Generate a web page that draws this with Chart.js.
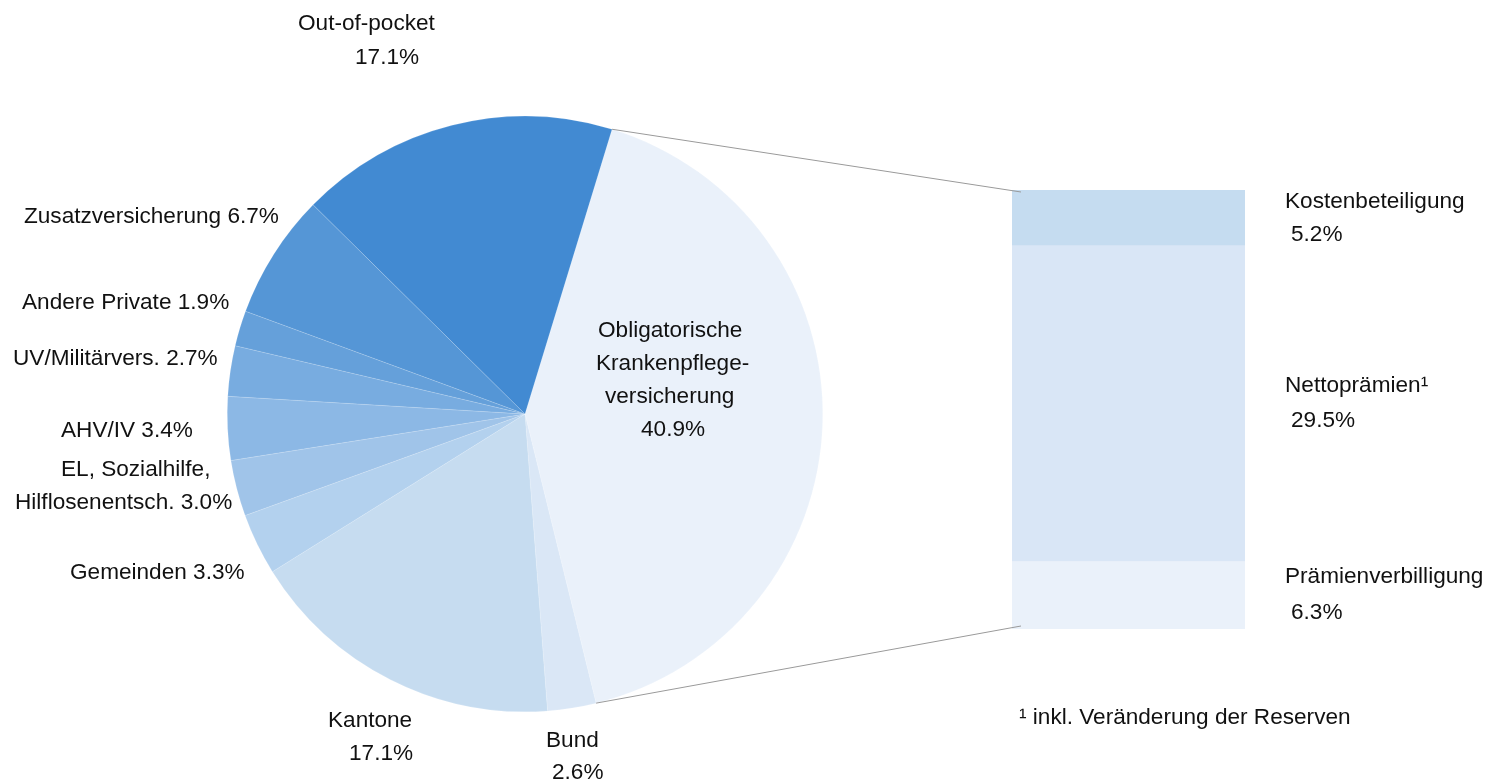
<!DOCTYPE html>
<html>
<head>
<meta charset="utf-8">
<script src="https://cdn.jsdelivr.net/npm/chart.js@4.4.1/dist/chart.umd.min.js"></script>
<style>
  html, body { margin: 0; padding: 0; background: #fff; }
  #wrap { position: relative; width: 1487px; height: 781px; }
  #wrap canvas { position: absolute; left: 0; top: 0; }
</style>
</head>
<body>
<div id="wrap">
  <canvas id="pie" width="1487" height="781"></canvas>
  <canvas id="bar" width="1487" height="781"></canvas>
</div>
<script>
// financing sources, clockwise from the compulsory insurance slice
var pieLabels = ['Obligatorische Krankenpflegeversicherung', 'Bund', 'Kantone', 'Gemeinden',
  'EL, Sozialhilfe, Hilflosenentsch.', 'AHV/IV', 'UV/Militärvers.', 'Andere Private',
  'Zusatzversicherung', 'Out-of-pocket'];
var pieValues = [40.9, 2.6, 17.1, 3.3, 3.0, 3.4, 2.7, 1.9, 6.7, 17.1];
var pieColors = ['#eaf1fa', '#dae7f6', '#c6dcf0', '#b3d1ee', '#a0c4e9', '#8cb8e5',
  '#78ace0', '#65a0da', '#5596d6', '#428ad2'];

// breakdown of the compulsory insurance, bottom to top
var barLabels = ['Prämienverbilligung', 'Nettoprämien¹', 'Kostenbeteiligung'];
var barValues = [6.3, 29.5, 5.2];
var barColors = ['#eaf1fa', '#d9e6f6', '#c5dcf0'];

var footnote = '¹ inkl. Veränderung der Reserven';

// label placement: lines of text ({v} = value), x per line, first baseline, line step
var pieLabelLayout = [
  { lines: ['Obligatorische', 'Krankenpflege-', 'versicherung', '{v}'], xs: [598, 596, 605, 641], y: 337, step: 33 },
  { lines: ['Bund', '{v}'], xs: [546, 552], y: 747, step: 32 },
  { lines: ['Kantone', '{v}'], xs: [328, 349], y: 727, step: 33 },
  { lines: ['Gemeinden {v}'], xs: [70], y: 579, step: 0 },
  { lines: ['EL, Sozialhilfe,', 'Hilflosenentsch. {v}'], xs: [61, 15], y: 476, step: 33 },
  { lines: ['AHV/IV {v}'], xs: [61], y: 437, step: 0 },
  { lines: ['UV/Militärvers. {v}'], xs: [13], y: 365, step: 0 },
  { lines: ['Andere Private {v}'], xs: [22], y: 309, step: 0 },
  { lines: ['Zusatzversicherung {v}'], xs: [24], y: 223, step: 0 },
  { lines: ['Out-of-pocket', '{v}'], xs: [298, 355], y: 30, step: 34 }
];
var barLabelLayout = [
  { xs: [1285, 1291], y: 583, step: 36 },
  { xs: [1285, 1291], y: 392, step: 35 },
  { xs: [1285, 1291], y: 208, step: 33 }
];

var FONT = '22.6px "Liberation Sans", Arial, sans-serif';
var TEXT = '#111';

function pct(v) {
  return v.toFixed(1) + '%';
}

var pieChart = new Chart(document.getElementById('pie'), {
  type: 'pie',
  data: {
    labels: pieLabels,
    datasets: [{
      data: pieValues,
      backgroundColor: pieColors,
      borderColor: 'rgba(255,255,255,0.3)',
      borderWidth: 0.5
    }]
  },
  options: {
    responsive: false,
    animation: false,
    rotation: 17,
    layout: { padding: { left: 227, right: 664, top: 116, bottom: 69 } },
    plugins: { legend: { display: false }, tooltip: { enabled: false } }
  }
});

var overlay = {
  id: 'overlay',
  afterDraw: function (chart) {
    var ctx = chart.ctx;
    var arc = pieChart.getDatasetMeta(0).data[0];
    var top = chart.getDatasetMeta(barValues.length - 1).data[0];
    var bottom = chart.getDatasetMeta(0).data[0];
    var left = top.x - top.width / 2;

    // connector lines from the OKP slice to the bar
    var a1 = arc.startAngle, a2 = arc.endAngle, r = arc.outerRadius;
    ctx.save();
    ctx.strokeStyle = '#9a9a9a';
    ctx.lineWidth = 1;
    ctx.beginPath();
    ctx.moveTo(arc.x + r * Math.cos(a1), arc.y + r * Math.sin(a1));
    ctx.lineTo(left + 9, top.y + 2);
    ctx.moveTo(arc.x + r * Math.cos(a2), arc.y + r * Math.sin(a2));
    ctx.lineTo(left + 9, bottom.base - 3);
    ctx.stroke();

    ctx.font = FONT;
    ctx.fillStyle = TEXT;
    ctx.textAlign = 'left';
    ctx.textBaseline = 'alphabetic';

    pieLabelLayout.forEach(function (lay, i) {
      lay.lines.forEach(function (line, j) {
        ctx.fillText(line.replace('{v}', pct(pieValues[i])), lay.xs[j], lay.y + j * lay.step);
      });
    });

    barLabelLayout.forEach(function (lay, i) {
      ctx.fillText(barLabels[i], lay.xs[0], lay.y);
      ctx.fillText(pct(barValues[i]), lay.xs[1], lay.y + lay.step);
    });

    ctx.fillText(footnote, 1019, 724);
    ctx.restore();
  }
};

var barSum = barValues.reduce(function (a, b) { return a + b; }, 0);

new Chart(document.getElementById('bar'), {
  type: 'bar',
  data: {
    labels: ['OKP'],
    datasets: barValues.map(function (v, i) {
      return {
        label: barLabels[i],
        data: [v],
        backgroundColor: barColors[i],
        borderWidth: 0,
        barPercentage: 1,
        categoryPercentage: 1
      };
    })
  },
  options: {
    responsive: false,
    animation: false,
    layout: { padding: { left: 1012, right: 242, top: 190, bottom: 152 } },
    scales: {
      x: { display: false, stacked: true },
      y: { display: false, stacked: true, min: 0, max: barSum }
    },
    plugins: { legend: { display: false }, tooltip: { enabled: false } }
  },
  plugins: [overlay]
});
</script>
</body>
</html>
